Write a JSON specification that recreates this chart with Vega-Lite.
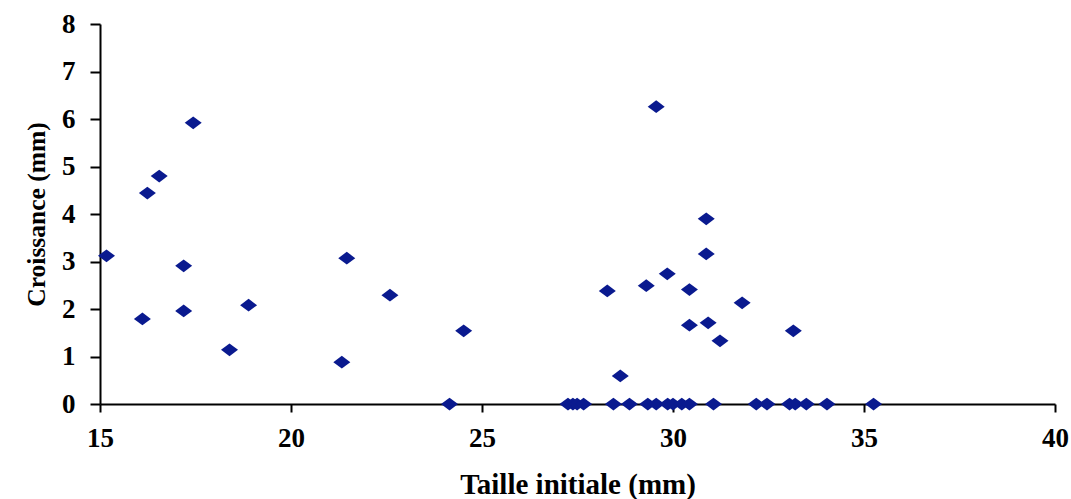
{
  "$schema": "https://vega.github.io/schema/vega-lite/v6.json",
  "autosize": {"type": "none"},
  "width": 955,
  "height": 380,
  "padding": {"left": 100, "top": 24, "right": 16, "bottom": 95},
  "background": "white",
  "config": {
    "view": {"stroke": null},
    "axis": {
      "labelFont": "Liberation Serif",
      "titleFont": "Liberation Serif",
      "labelFontWeight": "bold",
      "titleFontWeight": "bold",
      "labelFontSize": 27,
      "titleFontSize": 26,
      "labelColor": "black",
      "titleColor": "black",
      "domainColor": "black",
      "tickColor": "black",
      "domainWidth": 2,
      "tickWidth": 2,
      "grid": false
    }
  },
  "data": {
    "values": [
      {"taille": 15.17, "croissance": 3.12},
      {"taille": 16.11, "croissance": 1.79},
      {"taille": 16.24, "croissance": 4.44},
      {"taille": 16.55, "croissance": 4.80},
      {"taille": 17.44, "croissance": 5.92},
      {"taille": 17.19, "croissance": 2.91},
      {"taille": 17.19, "croissance": 1.96},
      {"taille": 18.39, "croissance": 1.14},
      {"taille": 18.89, "croissance": 2.08},
      {"taille": 21.33, "croissance": 0.88},
      {"taille": 21.46, "croissance": 3.07},
      {"taille": 22.59, "croissance": 2.29},
      {"taille": 24.52, "croissance": 1.54},
      {"taille": 28.28, "croissance": 2.38},
      {"taille": 28.62, "croissance": 0.59},
      {"taille": 29.30, "croissance": 2.49},
      {"taille": 29.56, "croissance": 6.26},
      {"taille": 29.85, "croissance": 2.74},
      {"taille": 30.43, "croissance": 2.41},
      {"taille": 30.43, "croissance": 1.66},
      {"taille": 30.87, "croissance": 3.90},
      {"taille": 30.87, "croissance": 3.16},
      {"taille": 30.92, "croissance": 1.71},
      {"taille": 31.23, "croissance": 1.33},
      {"taille": 31.81, "croissance": 2.13},
      {"taille": 33.15, "croissance": 1.54},
      {"taille": 24.15, "croissance": 0},
      {"taille": 27.25, "croissance": 0},
      {"taille": 27.38, "croissance": 0},
      {"taille": 27.49, "croissance": 0},
      {"taille": 27.66, "croissance": 0},
      {"taille": 28.44, "croissance": 0},
      {"taille": 28.86, "croissance": 0},
      {"taille": 29.34, "croissance": 0},
      {"taille": 29.56, "croissance": 0},
      {"taille": 29.86, "croissance": 0},
      {"taille": 30.00, "croissance": 0},
      {"taille": 30.23, "croissance": 0},
      {"taille": 30.43, "croissance": 0},
      {"taille": 31.06, "croissance": 0},
      {"taille": 32.18, "croissance": 0},
      {"taille": 32.46, "croissance": 0},
      {"taille": 33.05, "croissance": 0},
      {"taille": 33.20, "croissance": 0},
      {"taille": 33.49, "croissance": 0},
      {"taille": 34.03, "croissance": 0},
      {"taille": 35.25, "croissance": 0}
    ]
  },
  "mark": {
    "type": "point",
    "filled": true,
    "opacity": 1,
    "shape": "M-1,0L0,-0.75L1,0L0,0.75Z",
    "size": 289,
    "color": "#0A1A8F",
    "clip": false
  },
  "encoding": {
    "x": {
      "field": "taille",
      "type": "quantitative",
      "scale": {"domain": [15, 40], "nice": false, "zero": false},
      "axis": {
        "title": "Taille initiale (mm)",
        "titleFontSize": 29,
        "values": [15, 20, 25, 30, 35, 40],
        "labelFlush": false,
        "labelOverlap": false,
        "labelBound": false,
        "tickSize": 8,
        "labelPadding": 13,
        "titlePadding": 19
      }
    },
    "y": {
      "field": "croissance",
      "type": "quantitative",
      "scale": {"domain": [0, 8], "nice": false},
      "axis": {
        "title": "Croissance (mm)",
        "titleFontSize": 25.5,
        "values": [0, 1, 2, 3, 4, 5, 6, 7, 8],
        "labelFlush": false,
        "labelOverlap": false,
        "tickSize": 10,
        "labelPadding": 15,
        "titlePadding": 12
      }
    }
  }
}
